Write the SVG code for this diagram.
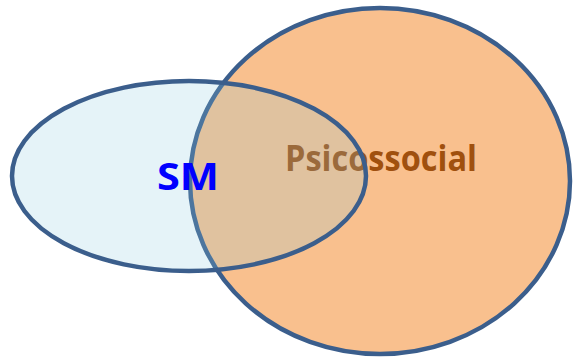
<svg xmlns="http://www.w3.org/2000/svg" width="573" height="358" viewBox="0 0 573 358">
<style>
.outline{fill:none;stroke:#3B5E8C;stroke-width:4.5}
.lbl{font-family:"Open Sans","Liberation Sans",sans-serif;font-weight:bold}
</style>
<rect width="573" height="358" fill="#FFFFFF"/>
<g id="psicossocial">
<ellipse cx="380" cy="181" rx="190" ry="173" class="outline" style="fill:#F9C08E"/>
<text class="lbl" x="285" y="171" font-size="36" fill="#A0500E" textLength="192" lengthAdjust="spacingAndGlyphs">Psicossocial</text>
</g>
<g id="sm">
<ellipse cx="189" cy="176" rx="177" ry="95" fill="#89C8DF" fill-opacity="0.22"/>
<ellipse cx="189" cy="176" rx="177" ry="95" class="outline"/>
<text class="lbl" x="157" y="190" font-size="38" fill="#0000FF" textLength="62" lengthAdjust="spacingAndGlyphs">SM</text>
</g>
<g id="connectors"></g>
</svg>
